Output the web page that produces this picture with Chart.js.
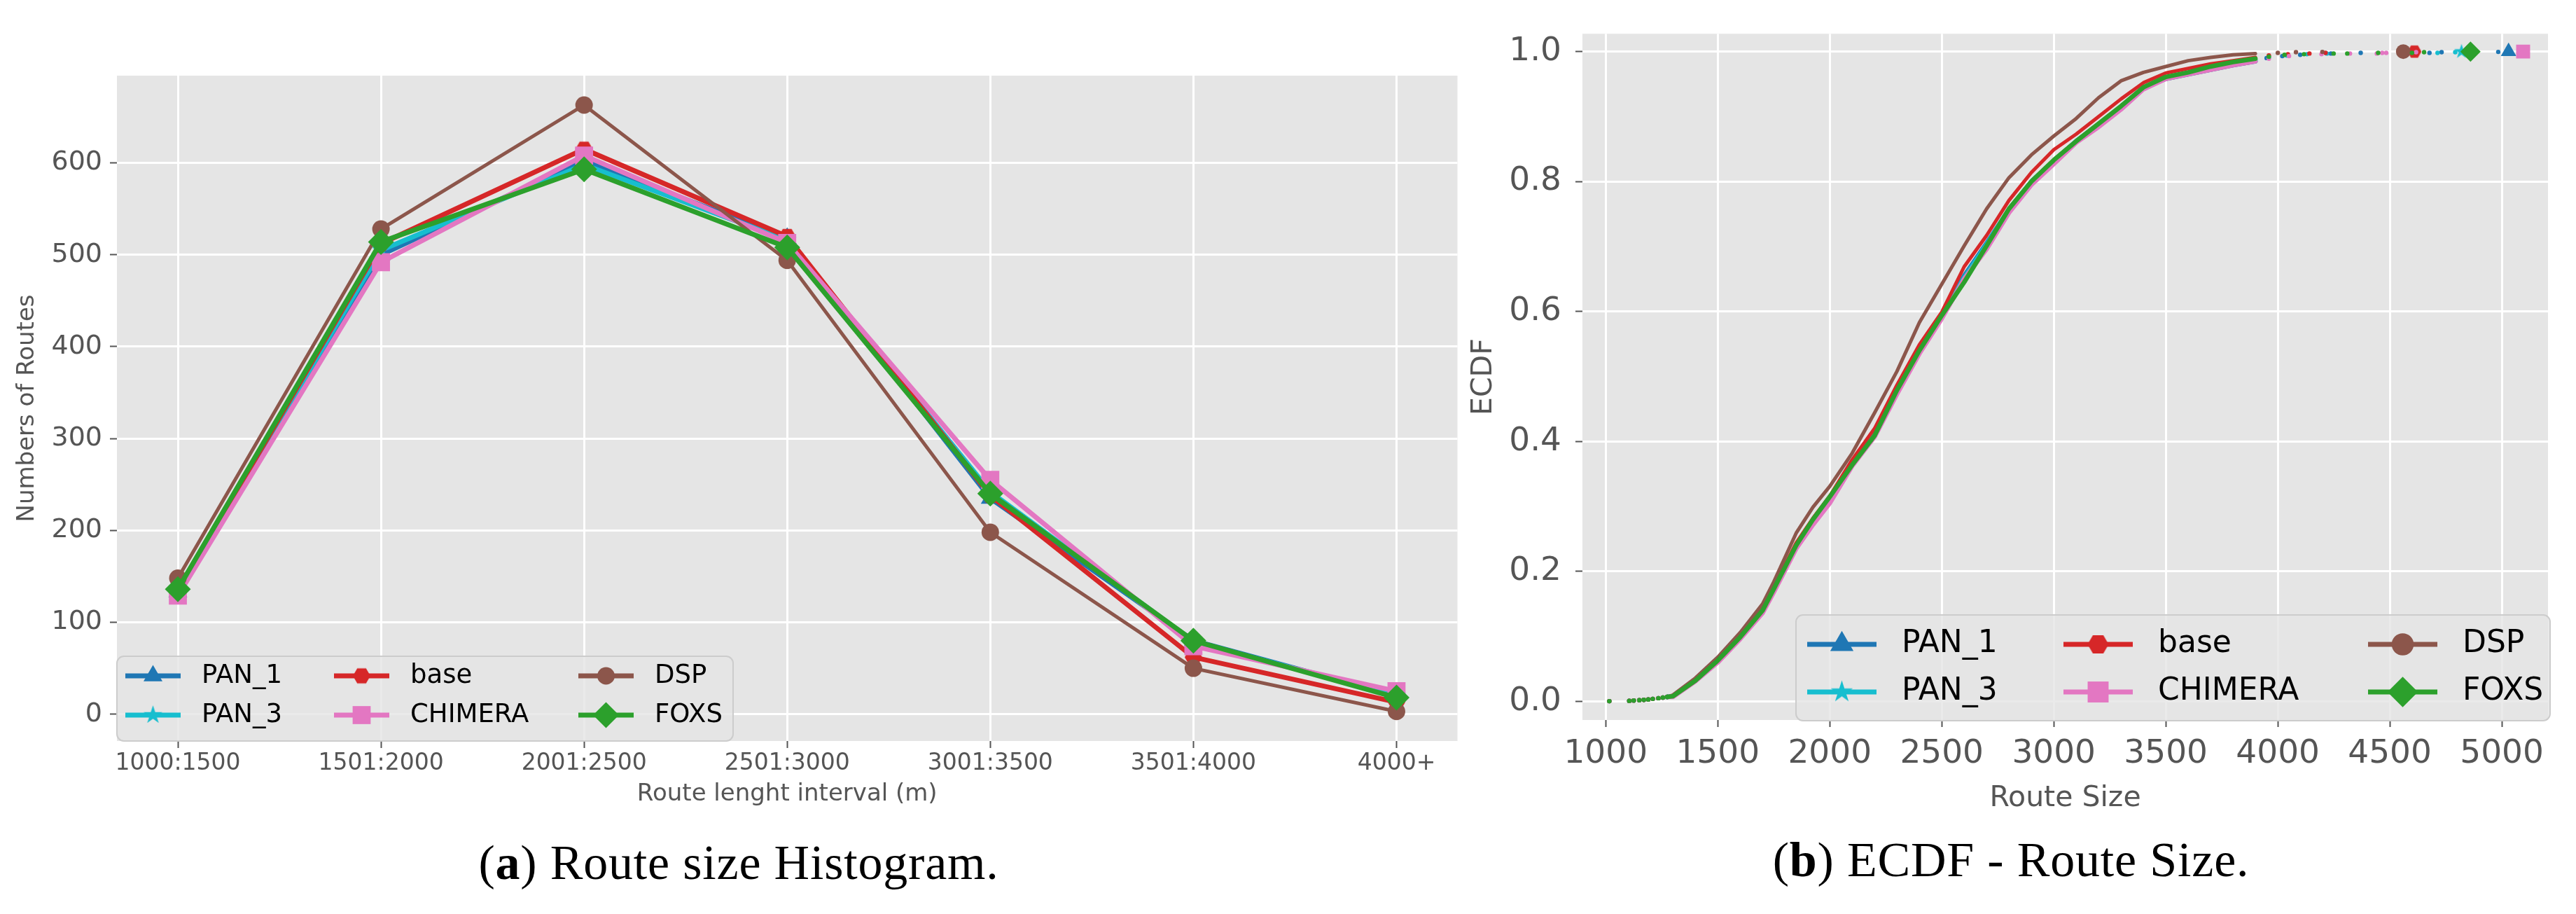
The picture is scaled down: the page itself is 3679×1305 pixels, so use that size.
<!DOCTYPE html>
<html>
<head>
<meta charset="utf-8">
<script src="https://cdn.jsdelivr.net/npm/chart.js@4.4.1/dist/chart.umd.min.js"></script>
<style>
    body { margin: 0; background: #fff; width: 3679px; height: 1305px; position: relative; overflow: hidden; }
    .panel { position: absolute; top: 0; height: 1180px; }
    .caption { position: absolute; width: 1400px; text-align: center; font-family: 'Liberation Serif', serif; font-size: 70px; line-height: 70px; color: #000; letter-spacing: 0.8px; white-space: nowrap; }
</style>
</head>
<body>
<div class="panel" style="left:0;width:2100px"><canvas id="histChart"></canvas></div>
<div class="panel" style="left:2090px;width:1589px"><canvas id="ecdfChart"></canvas></div>
<div class="caption" style="left:355px;top:1197px">(<b>a</b>) Route size Histogram.</div>
<div class="caption" style="left:2172px;top:1193px">(<b>b</b>) ECDF - Route Size.</div>
<script>
const FONT = "'DejaVu Sans', sans-serif";
const GREY = '#555555';
const PANEL_BG = '#E5E5E5';

// (a) route size histogram
const intervalLabels = ['1000:1500', '1501:2000', '2001:2500', '2501:3000', '3001:3500', '3501:4000', '4000+'];
const histPan1 = [133, 500, 603, 518, 235, 80, 20];
const histPan3 = [134, 505, 598, 516, 242, 79, 20];
const histBase = [133, 512, 615, 520, 238, 62, 13];
const histChimera = [129, 492, 608, 513, 255, 74, 25];
const histDsp = [148, 528, 663, 494, 198, 50, 3];
const histFoxs = [136, 514, 593, 508, 240, 80, 18];
const histYTicks = [0, 100, 200, 300, 400, 500, 600];

// (b) ECDF of route size
const ecdfHeadSizes = [1016, 1105, 1125, 1150, 1170, 1190, 1210, 1235, 1255, 1275];
const ecdfHeadValues = [0.0005, 0.001, 0.0015, 0.002, 0.0025, 0.003, 0.004, 0.005, 0.006, 0.007];
const ecdfSizes = [1300, 1400, 1500, 1600, 1700, 1750, 1850, 1925, 2000, 2100, 2200, 2300, 2400, 2500, 2600, 2700, 2800, 2900, 3000, 3100, 3200, 3300, 3400, 3500, 3600, 3700, 3800, 3900];
const ecdfPan1 = [0.008, 0.032, 0.062, 0.098, 0.139, 0.172, 0.238, 0.276, 0.310, 0.366, 0.414, 0.477, 0.540, 0.594, 0.655, 0.705, 0.757, 0.800, 0.832, 0.862, 0.888, 0.913, 0.944, 0.958, 0.965, 0.972, 0.979, 0.985];
const ecdfPan3 = [0.008, 0.032, 0.062, 0.098, 0.140, 0.173, 0.240, 0.278, 0.312, 0.367, 0.414, 0.478, 0.540, 0.594, 0.652, 0.703, 0.757, 0.800, 0.832, 0.862, 0.888, 0.914, 0.945, 0.959, 0.966, 0.974, 0.981, 0.987];
const ecdfBase = [0.008, 0.033, 0.064, 0.100, 0.142, 0.176, 0.244, 0.282, 0.316, 0.372, 0.420, 0.487, 0.549, 0.599, 0.669, 0.717, 0.771, 0.814, 0.849, 0.873, 0.900, 0.927, 0.952, 0.967, 0.974, 0.981, 0.986, 0.991];
const ecdfChimera = [0.007, 0.031, 0.060, 0.096, 0.136, 0.168, 0.235, 0.272, 0.305, 0.362, 0.407, 0.473, 0.535, 0.589, 0.650, 0.696, 0.752, 0.795, 0.827, 0.860, 0.884, 0.911, 0.942, 0.958, 0.965, 0.972, 0.979, 0.985];
const ecdfDsp = [0.010, 0.036, 0.068, 0.106, 0.150, 0.184, 0.259, 0.299, 0.331, 0.382, 0.444, 0.508, 0.583, 0.642, 0.701, 0.758, 0.806, 0.841, 0.870, 0.897, 0.929, 0.955, 0.968, 0.977, 0.986, 0.991, 0.995, 0.997];
const ecdfFoxs = [0.008, 0.032, 0.063, 0.099, 0.140, 0.173, 0.240, 0.280, 0.315, 0.364, 0.409, 0.479, 0.540, 0.594, 0.645, 0.701, 0.758, 0.800, 0.833, 0.862, 0.889, 0.916, 0.945, 0.961, 0.968, 0.977, 0.984, 0.989];
const tailPan1Sizes = [3950, 4020, 4100, 4237, 4370, 4677, 4731, 4984, 5030];
const tailPan1Values = [0.990, 0.993, 0.995, 0.997, 0.998, 0.998, 0.999, 0.9995, 1.0];
const tailPan3Sizes = [3960, 4040, 4130, 4219, 4713, 4792, 4820];
const tailPan3Values = [0.991, 0.994, 0.996, 0.997, 0.998, 0.999, 1.0];
const tailBaseSizes = [3960, 4045, 4141, 4213, 4610];
const tailBaseValues = [0.994, 0.996, 0.997, 0.998, 1.0];
const tailChimeraSizes = [3960, 4050, 4195, 4322, 4442, 4466, 4484, 4617, 5095];
const tailChimeraValues = [0.989, 0.993, 0.996, 0.997, 0.997, 0.998, 0.998, 0.999, 1.0];
const tailDspSizes = [4000, 4081, 4199, 4560];
const tailDspValues = [0.998, 0.999, 0.9995, 1.0];
const tailFoxsSizes = [3960, 4030, 4117, 4249, 4310, 4448, 4599, 4653, 4860];
const tailFoxsValues = [0.992, 0.995, 0.996, 0.997, 0.997, 0.998, 0.998, 0.999, 1.0];
const ecdfXTicks = [1000, 1500, 2000, 2500, 3000, 3500, 4000, 4500, 5000];
const ecdfYTicks = [0, 0.2, 0.4, 0.6, 0.8, 1.0];

const seriesInfo = [
    { label: 'PAN_1', color: '#1f77b4', marker: 'triangle', histR: 15.6, ecdfR: 12.8 },
    { label: 'PAN_3', color: '#17becf', marker: 'star', histR: 14, ecdfR: 11 },
    { label: 'base', color: '#d62728', marker: 'hexagon', histR: 12.5, ecdfR: 10 },
    { label: 'CHIMERA', color: '#e377c2', marker: 'rect', histR: 18.2, ecdfR: 14.1 },
    { label: 'DSP', color: '#8c564b', marker: 'circle', histR: 12.5, ecdfR: 10.5 },
    { label: 'FOXS', color: '#2ca02c', marker: 'rectRot', histR: 18.5, ecdfR: 14.5 }
];
const histSeries = [histPan1, histPan3, histBase, histChimera, histDsp, histFoxs];
const ecdfSeries = [ecdfPan1, ecdfPan3, ecdfBase, ecdfChimera, ecdfDsp, ecdfFoxs];
const tailSizes = [tailPan1Sizes, tailPan3Sizes, tailBaseSizes, tailChimeraSizes, tailDspSizes, tailFoxsSizes];
const tailValues = [tailPan1Values, tailPan3Values, tailBaseValues, tailChimeraValues, tailDspValues, tailFoxsValues];

// star and hexagon are not built-in shapes, so draw them on a small canvas
function markerStyle(shape, r, color) {
    if (shape !== 'star' && shape !== 'hexagon') return shape;
    const size = Math.ceil(2 * r + 2);
    const c = document.createElement('canvas');
    c.width = size;
    c.height = size;
    const g = c.getContext('2d');
    g.fillStyle = color;
    g.beginPath();
    if (shape === 'star') {
        for (let k = 0; k < 10; k++) {
            const a = -Math.PI / 2 + k * Math.PI / 5;
            const rr = k % 2 ? r * 0.382 : r;
            g.lineTo(size / 2 + rr * Math.cos(a), size / 2 + rr * Math.sin(a));
        }
    } else {
        for (let k = 0; k < 6; k++) {
            const a = k * Math.PI / 3;
            g.lineTo(size / 2 + r * Math.cos(a), size / 2 + r * Math.sin(a));
        }
    }
    g.closePath();
    g.fill();
    return c;
}

const panelBackground = {
    id: 'panelBackground',
    beforeDraw(chart) {
        const { ctx, chartArea: a } = chart;
        ctx.save();
        ctx.fillStyle = PANEL_BG;
        ctx.fillRect(a.left, a.top, a.right - a.left, a.bottom - a.top);
        ctx.restore();
    }
};

const insideLegend = {
    id: 'insideLegend',
    afterDraw(chart, args, opts) {
        const ctx = chart.ctx;
        const b = opts.box;
        ctx.save();
        ctx.beginPath();
        if (ctx.roundRect) ctx.roundRect(b.left, b.top, b.right - b.left, b.bottom - b.top, 10);
        else ctx.rect(b.left, b.top, b.right - b.left, b.bottom - b.top);
        ctx.fillStyle = 'rgba(229, 229, 229, 0.8)';
        ctx.fill();
        ctx.strokeStyle = '#cccccc';
        ctx.lineWidth = 2;
        ctx.stroke();
        chart.data.datasets.forEach((ds, i) => {
            const x0 = opts.cols[Math.floor(i / 2)];
            const y = opts.rows[i % 2];
            ctx.strokeStyle = ds.borderColor;
            ctx.lineWidth = opts.lineWidth;
            ctx.beginPath();
            ctx.moveTo(x0, y);
            ctx.lineTo(x0 + opts.lineLen, y);
            ctx.stroke();
            ctx.fillStyle = ds.borderColor;
            Chart.helpers.drawPoint(ctx, { pointStyle: ds.legendMarker, radius: ds.legendRadius, rotation: 0, borderWidth: 0 }, x0 + opts.lineLen / 2, y);
            ctx.fillStyle = '#000000';
            ctx.font = `${opts.fontSize}px ${FONT}`;
            ctx.textBaseline = 'middle';
            ctx.textAlign = 'left';
            ctx.fillText(ds.label, x0 + opts.lineLen + opts.textGap, y);
        });
        ctx.restore();
    }
};

function gridOptions() {
    return { color: '#ffffff', lineWidth: 3, tickColor: GREY, tickLength: 10, tickWidth: 2 };
}

new Chart(document.getElementById('histChart'), {
    type: 'line',
    data: {
        datasets: seriesInfo.map((s, k) => {
            const style = markerStyle(s.marker, s.histR, s.color);
            return {
                label: s.label,
                data: histSeries[k].map((v, i) => ({ x: i, y: v })),
                borderColor: s.color,
                backgroundColor: s.color,
                borderWidth: s.label === 'DSP' ? 5 : 7,
                pointStyle: style,
                pointRadius: s.histR,
                pointBackgroundColor: s.color,
                pointBorderWidth: 0,
                order: 6 - k,
                legendMarker: style,
                legendRadius: s.histR
            };
        })
    },
    options: {
        responsive: true,
        maintainAspectRatio: false,
        animation: false,
        events: [],
        layout: { padding: { top: 108, right: 18, left: 0, bottom: 0 } },
        plugins: {
            legend: { display: false },
            tooltip: { enabled: false },
            insideLegend: {
                box: { left: 167, right: 1047, top: 937, bottom: 1058 },
                cols: [179, 477, 826],
                rows: [965, 1021],
                lineLen: 79,
                textGap: 30,
                lineWidth: 7,
                fontSize: 37
            }
        },
        scales: {
            x: {
                type: 'linear',
                min: -0.3,
                max: 6.3,
                afterBuildTicks: (s) => { s.ticks = intervalLabels.map((_, i) => ({ value: i })); },
                afterFit: (s) => { s.height = 122; },
                ticks: { callback: (v) => intervalLabels[v], color: GREY, font: { family: FONT, size: 33 }, padding: 3, maxRotation: 0, autoSkip: false },
                grid: gridOptions(),
                border: { display: false },
                title: { display: true, text: 'Route lenght interval (m)', color: GREY, font: { family: FONT, size: 34 }, padding: { top: 0, bottom: 25 } }
            },
            y: {
                min: -29.2,
                max: 695,
                afterBuildTicks: (s) => { s.ticks = histYTicks.map((v) => ({ value: v })); },
                afterFit: (s) => { s.width = 167; },
                ticks: { color: GREY, font: { family: FONT, size: 38 }, padding: 11 },
                grid: gridOptions(),
                border: { display: false },
                title: { display: true, text: 'Numbers of Routes', color: GREY, font: { family: FONT, size: 34 }, padding: { top: 19, bottom: 0 } }
            }
        }
    },
    plugins: [panelBackground, insideLegend]
});

const headLen = ecdfHeadSizes.length;
const mainLen = ecdfSizes.length;

new Chart(document.getElementById('ecdfChart'), {
    type: 'line',
    data: {
        datasets: seriesInfo.map((s, k) => {
            const endStyle = markerStyle(s.marker, s.ecdfR, s.color);
            const pts = [];
            ecdfHeadSizes.forEach((x, i) => pts.push({ x, y: ecdfHeadValues[i] }));
            ecdfSizes.forEach((x, i) => pts.push({ x, y: ecdfSeries[k][i] }));
            tailSizes[k].forEach((x, i) => pts.push({ x, y: tailValues[k][i] }));
            const last = pts.length - 1;
            return {
                label: s.label,
                data: pts,
                borderColor: s.color,
                backgroundColor: s.color,
                borderWidth: (s.label === 'DSP' || s.label === 'base') ? 5 : 6.5,
                borderJoinStyle: 'round',
                borderCapStyle: 'round',
                segment: {
                    borderColor: (ctx) => (ctx.p0DataIndex < headLen - 1 || ctx.p1DataIndex > headLen + mainLen - 1) ? 'rgba(0,0,0,0)' : undefined
                },
                pointStyle: (ctx) => ctx.dataIndex === last ? endStyle : 'circle',
                pointRadius: (ctx) => {
                    const i = ctx.dataIndex;
                    if (i === last) return s.ecdfR;
                    return (i < headLen || i >= headLen + mainLen) ? 3.2 : 0;
                },
                pointBackgroundColor: s.color,
                pointBorderWidth: 0,
                order: 6 - k,
                legendMarker: markerStyle(s.marker, s.ecdfR * 1.5, s.color),
                legendRadius: s.ecdfR * 1.5
            };
        })
    },
    options: {
        responsive: true,
        maintainAspectRatio: false,
        animation: false,
        events: [],
        layout: { padding: { top: 25, right: 40, left: 0, bottom: 0 } },
        plugins: {
            legend: { display: false },
            tooltip: { enabled: false },
            insideLegend: {
                box: { left: 475, right: 1552, top: 878, bottom: 1029 },
                cols: [491, 857, 1292],
                rows: [920, 988],
                lineLen: 99,
                textGap: 36,
                lineWidth: 7,
                fontSize: 44
            }
        },
        scales: {
            x: {
                type: 'linear',
                min: 896,
                max: 5206,
                afterBuildTicks: (s) => { s.ticks = ecdfXTicks.map((v) => ({ value: v })); },
                afterFit: (s) => { s.height = 152; },
                ticks: { callback: (v) => String(v), color: GREY, font: { family: FONT, size: 47 }, padding: 11, maxRotation: 0, autoSkip: false },
                grid: gridOptions(),
                border: { display: false },
                title: { display: true, text: 'Route Size', color: GREY, font: { family: FONT, size: 41 }, padding: { top: 0, bottom: 15 } }
            },
            y: {
                min: -0.0285,
                max: 1.0274,
                afterBuildTicks: (s) => { s.ticks = ecdfYTicks.map((v) => ({ value: v })); },
                afterFit: (s) => { s.width = 170; },
                ticks: { callback: (v) => Number(v).toFixed(1), color: GREY, font: { family: FONT, size: 47 }, padding: 20 },
                grid: gridOptions(),
                border: { display: false },
                title: { display: true, text: 'ECDF', color: GREY, font: { family: FONT, size: 41 }, padding: { top: 5, bottom: 0 } }
            }
        }
    },
    plugins: [panelBackground, insideLegend]
});
</script>
</body>
</html>
